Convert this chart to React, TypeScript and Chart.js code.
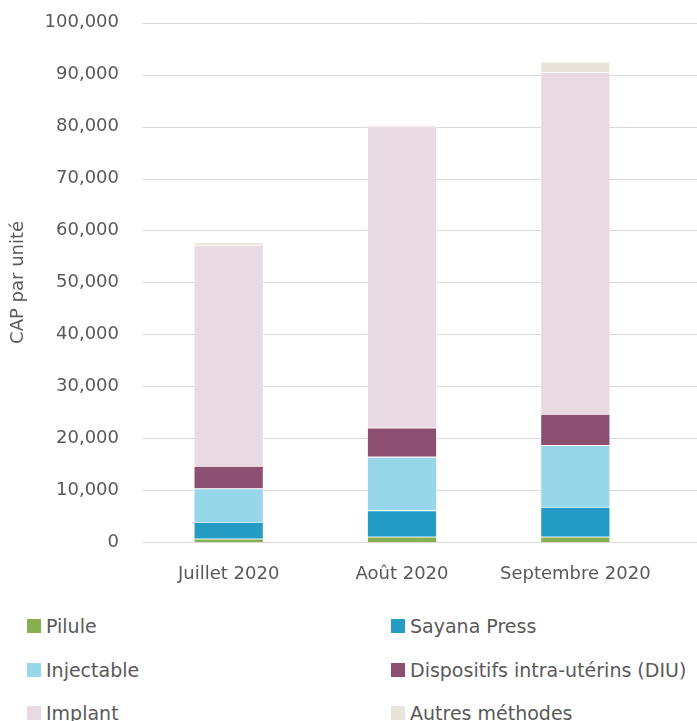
import React, { useEffect, useRef } from "react";
import { Chart, registerables } from "chart.js";

Chart.register(...registerables);

const categories = ["Juillet 2020", "Août 2020", "Septembre 2020"];
const seriesNames = [
  "Pilule",
  "Sayana Press",
  "Injectable",
  "Dispositifs intra-utérins (DIU)",
  "Implant",
  "Autres méthodes",
];
const pilule = [650, 1000, 1000];
const sayanaPress = [3200, 5100, 5740];
const injectable = [6450, 10300, 11900];
const diu = [4350, 5600, 6030];
const implant = [42550, 58000, 65840];
const autres = [500, 300, 2000];
const seriesColors = ["#87AF50", "#249CC4", "#98D7EA", "#8C4F71", "#E8D9E3", "#E8E4DA"];
const yTicks = [0, 10000, 20000, 30000, 40000, 50000, 60000, 70000, 80000, 90000, 100000];

const FONT = "'DejaVu Sans', sans-serif";
const TEXT = "#595959";

const gridPlugin = {
  id: "extendedGrid",
  beforeDatasetsDraw(chart: any) {
    const { ctx, chartArea, scales } = chart;
    const y = scales.y;
    ctx.save();
    ctx.strokeStyle = "#D9D9D9";
    ctx.lineWidth = 1;
    yTicks.forEach((v) => {
      const py = Math.round(y.getPixelForValue(v)) + 0.5;
      ctx.beginPath();
      ctx.moveTo(chartArea.left, py);
      ctx.lineTo(chart.width, py);
      ctx.stroke();
    });
    ctx.restore();
  },
};

export default function App() {
  const ref = useRef<HTMLCanvasElement | null>(null);
  useEffect(() => {
    if (!ref.current) return;
    const values = [pilule, sayanaPress, injectable, diu, implant, autres];
    const chart = new Chart(ref.current, {
      type: "bar",
      data: {
        labels: categories,
        datasets: seriesNames.map((name, i) => ({
          label: name,
          data: values[i],
          backgroundColor: seriesColors[i],
          borderColor: "rgba(255,255,255,0.7)",
          borderWidth: 0.8,
          categoryPercentage: 1,
          barPercentage: 0.403,
        })),
      },
      options: {
        animation: false,
        responsive: false,
        layout: { padding: { top: 12, right: 35, left: 0, bottom: 0 } },
        plugins: { legend: { display: false }, tooltip: { enabled: false } },
        scales: {
          x: {
            stacked: true,
            grid: { display: false, drawTicks: false },
            border: { display: false },
            ticks: { color: TEXT, font: { family: FONT, size: 18 }, padding: 22 },
            afterFit: (s: any) => {
              s.height = 58;
            },
          },
          y: {
            stacked: true,
            min: 0,
            max: 100000,
            grid: { display: false, drawTicks: false },
            border: { display: false },
            ticks: {
              stepSize: 10000,
              color: TEXT,
              font: { family: FONT, size: 18 },
              padding: 23,
              callback: (v: any) => Number(v).toLocaleString("en-US"),
            },
            title: {
              display: true,
              text: "CAP par unité",
              color: TEXT,
              font: { family: FONT, size: 18 },
              padding: { top: 8, bottom: 0 },
            },
            afterFit: (s: any) => {
              s.width = 142;
            },
          },
        },
      },
      plugins: [gridPlugin],
    });
    return () => chart.destroy();
  }, []);

  const legendPos = [
    { left: 27, top: 626 },
    { left: 391, top: 626 },
    { left: 27, top: 670 },
    { left: 391, top: 670 },
    { left: 27, top: 712.5 },
    { left: 391, top: 712.5 },
  ];

  return (
    <div style={{ position: "fixed", left: 0, top: 0, width: 697, height: 721, background: "#fff", overflow: "hidden" }}>
      <canvas ref={ref} width={697} height={611} style={{ position: "absolute", left: 0, top: -11 }} />
      {seriesNames.map((name, i) => (
        <div
          key={name}
          style={{
            position: "absolute",
            left: legendPos[i].left,
            top: legendPos[i].top - 12,
            height: 24,
            display: "flex",
            alignItems: "center",
            fontFamily: FONT,
            fontSize: 19,
            color: TEXT,
            whiteSpace: "nowrap",
          }}
        >
          <span style={{ display: "inline-block", width: 14, height: 14, background: seriesColors[i], marginRight: 5 }} />
          <span>{name}</span>
        </div>
      ))}
    </div>
  );
}
